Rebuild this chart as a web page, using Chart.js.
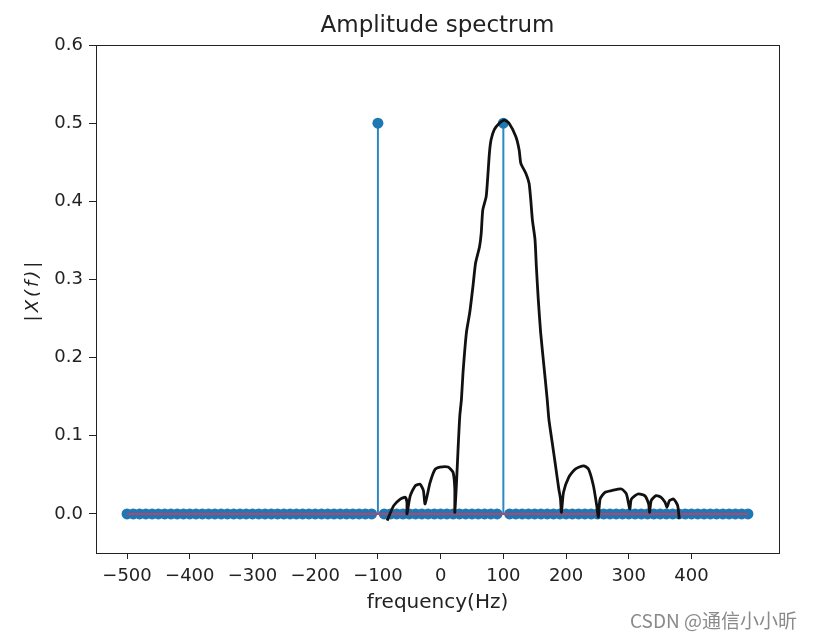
<!DOCTYPE html>
<html>
<head>
<meta charset="utf-8">
<script src="https://cdn.jsdelivr.net/npm/chart.js@4"></script>
<style>
  html, body { margin: 0; padding: 0; background: #fff; }
  #wrap { width: 816px; height: 639px; }
</style>
</head>
<body>
<div id="wrap"><canvas id="spectrum"></canvas></div>
<script>
// Frequency bins (Hz) of the stem plot
const freqs = [
    -500, -490, -480, -470, -460, -450, -440, -430, -420, -410,
    -400, -390, -380, -370, -360, -350, -340, -330, -320, -310,
    -300, -290, -280, -270, -260, -250, -240, -230, -220, -210,
    -200, -190, -180, -170, -160, -150, -140, -130, -120, -110,
    -100, -90, -80, -70, -60, -50, -40, -30, -20, -10,
    0, 10, 20, 30, 40, 50, 60, 70, 80, 90,
    100, 110, 120, 130, 140, 150, 160, 170, 180, 190,
    200, 210, 220, 230, 240, 250, 260, 270, 280, 290,
    300, 310, 320, 330, 340, 350, 360, 370, 380, 390,
    400, 410, 420, 430, 440, 450, 460, 470, 480, 490
];
// |X(f)| for each bin
const amps = [
    0, 0, 0, 0, 0, 0, 0, 0, 0, 0,
    0, 0, 0, 0, 0, 0, 0, 0, 0, 0,
    0, 0, 0, 0, 0, 0, 0, 0, 0, 0,
    0, 0, 0, 0, 0, 0, 0, 0, 0, 0,
    0.5, 0, 0, 0, 0, 0, 0, 0, 0, 0,
    0, 0, 0, 0, 0, 0, 0, 0, 0, 0,
    0.5, 0, 0, 0, 0, 0, 0, 0, 0, 0,
    0, 0, 0, 0, 0, 0, 0, 0, 0, 0,
    0, 0, 0, 0, 0, 0, 0, 0, 0, 0,
    0, 0, 0, 0, 0, 0, 0, 0, 0, 0
];

// Hand-drawn sketch of the spectrum over the plot
const sketchX = [
    -85.3, -74.8, -64.3, -56.4, -53.7, -53.7,
    -48.5, -40.6, -32.7, -27.5, -24.8,
    -16.9, -9.0, -1.1, 12, 19.9, 22.6, 22.6,
    25.3, 27.8, 30.5, 33.2, 35.7, 41.1, 46.3, 51.5, 55.7, 62.0, 64.7, 67.2,
    72.6, 75.2, 77.8, 80.5, 85.7, 93.6, 101.5,
    109.4, 120, 125.2, 127.9, 135.8, 141, 143.7, 146.3, 150.5, 152.6,
    155.7, 159.5, 164.7, 169.9, 172.6, 177.9, 183.2, 188.4, 191.1, 192.6,
    195.9, 204.2, 214.7, 227.9, 235.8, 243.6, 248.9, 251.5,
    254.2, 262.1, 272.6, 288.3, 296.2, 301.6,
    304.1, 314.7, 325.3, 331.6, 333.2,
    335.7, 343.6, 351.5, 357.8, 361,
    364.8, 371.6, 377.9, 380.5
];
const sketchY = [
    -0.0085, 0.0106, 0.019, 0.0213, 0.0149, 0.0,
    0.023, 0.036, 0.038, 0.030, 0.0128,
    0.040, 0.057, 0.060, 0.060, 0.053, 0.032, 0.002,
    0.040, 0.083, 0.125, 0.147, 0.181, 0.232, 0.257, 0.291, 0.321, 0.342, 0.359, 0.389,
    0.406, 0.432, 0.462, 0.479, 0.492, 0.500, 0.504,
    0.4996, 0.4825, 0.4656, 0.4486, 0.4358, 0.4231, 0.4018, 0.3763, 0.3508, 0.3167,
    0.2742, 0.2317, 0.1892, 0.1467, 0.121, 0.0914, 0.0617, 0.0319, 0.0191, 0.0022,
    0.0277, 0.0468, 0.0574, 0.0616, 0.0574, 0.0361, 0.0106, -0.0042,
    0.019, 0.0277, 0.0298, 0.0319, 0.0255, 0.0064,
    0.019, 0.0255, 0.0234, 0.0128, 0.0022,
    0.017, 0.0234, 0.0213, 0.0149, 0.0085,
    0.017, 0.019, 0.0106, -0.0064
];

const xTicks = [-500, -400, -300, -200, -100, 0, 100, 200, 300, 400];
const yTicks = [0.0, 0.1, 0.2, 0.3, 0.4, 0.5, 0.6];

const stemColor = "#1f77b4";
const fam = "'DejaVu Sans', sans-serif";
const tickFont = { family: fam, size: 18 };

// One line dataset per non-zero stem
const stemSets = [];
freqs.forEach((f, i) => {
    if (amps[i] !== 0) {
        stemSets.push({
            data: [{ x: f, y: 0 }, { x: f, y: amps[i] }],
            showLine: true,
            borderColor: "#2a88c4",
            borderWidth: 2,
            pointRadius: 0,
            order: 3,
        });
    }
});

// Axes box, title centred on the plot, y label and watermark
const framePlugin = {
    id: "frame",
    afterDraw(chart) {
        const { ctx, chartArea: a } = chart;
        ctx.save();
        ctx.strokeStyle = "#222";
        ctx.lineWidth = 1;
        ctx.strokeRect(a.left + 0.5, a.top + 0.5, a.right - a.left, a.bottom - a.top);

        ctx.fillStyle = "#222";
        ctx.textAlign = "center";
        ctx.textBaseline = "alphabetic";
        ctx.font = "23px " + fam;
        ctx.fillText("Amplitude spectrum", (a.left + a.right) / 2, 32);

        // |X(f)| rotated, a bit spread out like mathtext
        ctx.save();
        ctx.translate(38, 290);
        ctx.rotate(-Math.PI / 2);
        ctx.font = "italic 18px " + fam;
        ctx.letterSpacing = "3px";
        ctx.fillText("|X(f)|", 0, 0);
        ctx.restore();

        ctx.fillStyle = "#8a8a8a";
        ctx.font = "19px 'Noto Sans CJK SC', sans-serif";
        ctx.textAlign = "left";
        ctx.textBaseline = "middle";
        ctx.fillText("CSDN @通信小小昕", 630, 621);
        ctx.restore();
    },
};

new Chart(document.getElementById("spectrum"), {
    type: "scatter",
    data: {
        datasets: [
            {
                label: "sketch",
                data: sketchX.map((x, i) => ({ x: x, y: sketchY[i] })),
                showLine: true,
                borderColor: "#111",
                borderWidth: 2.8,
                pointRadius: 0,
                tension: 0.2,
                order: 0,
            },
            {
                label: "baseline",
                data: [{ x: freqs[0], y: 0 }, { x: freqs[freqs.length - 1], y: 0 }],
                showLine: true,
                borderColor: "#b0456e",
                borderWidth: 2,
                pointRadius: 0,
                order: 1,
            },
            {
                label: "markers",
                data: freqs.map((f, i) => ({ x: f, y: amps[i] })),
                showLine: false,
                backgroundColor: stemColor,
                borderColor: stemColor,
                borderWidth: 0,
                pointRadius: 5.5,
                order: 2,
            },
            ...stemSets,
        ],
    },
    options: {
        responsive: true,
        maintainAspectRatio: false,
        animation: false,
        layout: { padding: { left: 0, right: 37, top: 45, bottom: 0 } },
        plugins: {
            legend: { display: false },
            tooltip: { enabled: false },
        },
        scales: {
            x: {
                type: "linear",
                min: -549.5,
                max: 539.5,
                afterBuildTicks: (s) => { s.ticks = xTicks.map((v) => ({ value: v })); },
                afterFit: (s) => { s.height = 86; },
                grid: { drawOnChartArea: false, drawTicks: true, tickLength: 6, color: "#222" },
                border: { color: "#222" },
                ticks: {
                    color: "#222",
                    font: tickFont,
                    padding: 7,
                    maxRotation: 0,
                    autoSkip: false,
                    callback: (v) => (v < 0 ? "\u2212" + Math.abs(v) : String(v)),
                },
                title: {
                    display: true,
                    text: "frequency(Hz)",
                    color: "#222",
                    font: { family: fam, size: 20 },
                    padding: { top: 0, bottom: 24 },
                },
            },
            y: {
                type: "linear",
                min: -0.05,
                max: 0.6,
                afterBuildTicks: (s) => { s.ticks = yTicks.map((v) => ({ value: v })); },
                afterFit: (s) => { s.width = 96; },
                grid: { drawOnChartArea: false, drawTicks: true, tickLength: 7, color: "#222" },
                border: { color: "#222" },
                ticks: {
                    color: "#222",
                    font: tickFont,
                    padding: 6,
                    callback: (v) => v.toFixed(1),
                },
            },
        },
    },
    plugins: [framePlugin],
});
</script>
</body>
</html>
